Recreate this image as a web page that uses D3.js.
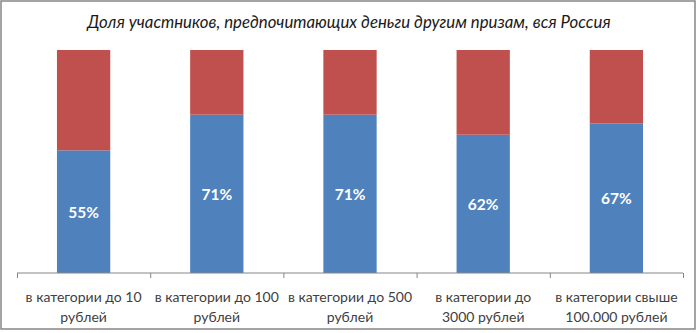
<!DOCTYPE html>
<html><head><meta charset="utf-8">
<script src="https://cdn.jsdelivr.net/npm/d3@7"></script>
<style>body{margin:0;background:#fff;} svg{display:block;}</style>
</head><body>
<svg id="c" width="700" height="333"></svg>
<script>
const title = "Доля участников, предпочитающих деньги другим призам, вся Россия";
const categories = [
  ["в категории до 10", "рублей"],
  ["в категории до 100", "рублей"],
  ["в категории до 500", "рублей"],
  ["в категории до", "3000 рублей"],
  ["в категории свыше", "100.000 рублей"]
];
const moneyShare = [55, 71, 71, 62, 67];
const otherShare = moneyShare.map(v => 100 - v);

const svg = d3.select("#c");
const plotLeft = 17, plotRight = 683, axisY = 273, plotTop = 50;

svg.append("rect").attr("x", 1).attr("y", 1).attr("width", 694).attr("height", 328)
  .attr("fill", "#fff").attr("stroke", "#868686").attr("stroke-width", 1.5);

const x = d3.scaleBand().domain(d3.range(categories.length)).range([plotLeft, plotRight])
  .paddingInner(0.6).paddingOuter(0.3);
const y = d3.scaleLinear().domain([0, 100]).range([axisY, plotTop]);

const font = "Lato, 'Open Sans', sans-serif";

svg.append("text").attr("x", 349).attr("y", 28).attr("text-anchor", "middle")
  .attr("font-family", font).attr("font-style", "italic").attr("font-size", 16.8)
  .attr("fill", "#1a1a1a").text(title);

const stack = d3.stack().keys(["money", "other"])(
  moneyShare.map((v, i) => ({i, money: v, other: otherShare[i]})));
const colors = {money: "#4F81BD", other: "#C0504D"};

stack.forEach(layer => {
  svg.append("g").selectAll("rect").data(layer).join("rect")
    .attr("x", d => x(d.data.i))
    .attr("width", x.bandwidth())
    .attr("y", d => y(d[1]))
    .attr("height", d => y(d[0]) - y(d[1]))
    .attr("fill", colors[layer.key]);
});

svg.append("g").selectAll("text").data(moneyShare).join("text")
  .attr("x", (d, i) => x(i) + x.bandwidth() / 2)
  .attr("y", d => (y(0) + y(d)) / 2 + 6)
  .attr("text-anchor", "middle")
  .attr("font-family", font).attr("font-weight", "bold").attr("font-size", 15.5)
  .attr("fill", "#fff").text(d => d + "%");

// axis
const axisScale = d3.scaleLinear().domain([0, categories.length]).range([plotLeft, plotRight]);
const axis = d3.axisBottom(axisScale).ticks(categories.length).tickSize(5).tickFormat("");
const ag = svg.append("g").attr("transform", `translate(0,${axisY})`).call(axis);
ag.select(".domain").attr("stroke", "#868686").attr("d", `M${plotLeft},0H${plotRight}`);
ag.selectAll(".tick line").attr("stroke", "#868686");

const lab = svg.append("g").selectAll("text").data(categories).join("text")
  .attr("text-anchor", "middle")
  .attr("font-family", font).attr("font-size", 14).attr("fill", "#404040");
lab.each(function(d, i) {
  const t = d3.select(this);
  const cx = x(i) + x.bandwidth() / 2;
  d.forEach((line, j) => {
    t.append("tspan").attr("x", cx).attr("y", 302 + j * 20).text(line);
  });
});
</script>
</body></html>
